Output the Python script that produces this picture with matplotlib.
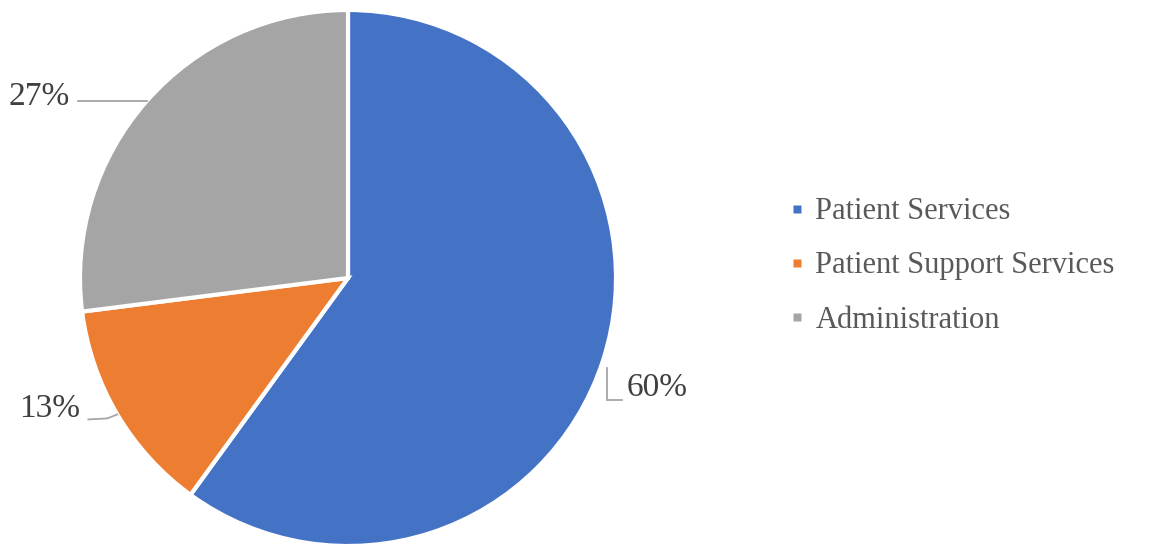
import numpy as np
import matplotlib.pyplot as plt
from matplotlib.lines import Line2D

# data
categories = ['Patient Services', 'Patient Support Services', 'Administration']
shares = [60, 13, 27]
colors = ['#4472C4', '#ED7D31', '#A5A5A5']

plt.rcParams['font.family'] = ['Liberation Serif', 'DejaVu Serif']

W, H = 1155, 544
fig = plt.figure(figsize=(W / 100, H / 100), dpi=100)
ax = fig.add_axes([0, 0, 1, 1])

cx, cy, r = 348, H - 278, 268
wedges, _ = ax.pie(shares, colors=colors, startangle=90, counterclock=False,
                   center=(cx, cy), radius=r, frame=True,
                   wedgeprops=dict(edgecolor='white', linewidth=3))
ax.set_xlim(0, W)
ax.set_ylim(0, H)
ax.set_aspect('equal')
ax.axis('off')

# data labels with leader lines (Excel style)
line_col = '#A6A6A6'
txt_col = '#404040'
label_cfg = [
    # leader path offsets relative to wedge mid point, text offset, alignment
    dict(path=[(4, -7), (4, -39), (19, -39)], text=(24, -27), ha='left'),
    dict(path=[(0, 0), (-10, -4), (-29, -5)], text=(-37, 6), ha='right'),
    dict(path=[(0, 0), (-69, 0)], text=(-77, 4), ha='right'),
]
for w, v, cfg in zip(wedges, shares, label_cfg):
    mid = np.deg2rad((w.theta1 + w.theta2) / 2)
    mx, my = cx + r * np.cos(mid), cy + r * np.sin(mid)
    xs = [mx + dx for dx, dy in cfg['path']]
    ys = [my + dy for dx, dy in cfg['path']]
    ax.plot(xs, ys, color=line_col, lw=1.3, solid_joinstyle='miter')
    ax.text(mx + cfg['text'][0], my + cfg['text'][1], f'{v}%',
            ha=cfg['ha'], va='center', fontsize=24, color=txt_col)

handles = [Line2D([], [], ls='none', marker='s', markersize=5.5,
                  markerfacecolor=c, markeredgecolor='none') for c in colors]
leg = ax.legend(handles, categories, loc='center left',
                bbox_to_anchor=(789 / W, 1 - 266 / H), frameon=False,
                fontsize=22, labelcolor='#595959', handlelength=0.5,
                handletextpad=0.36, labelspacing=0.82,
                borderaxespad=0, borderpad=0)

fig.savefig('out.png', dpi=100)
